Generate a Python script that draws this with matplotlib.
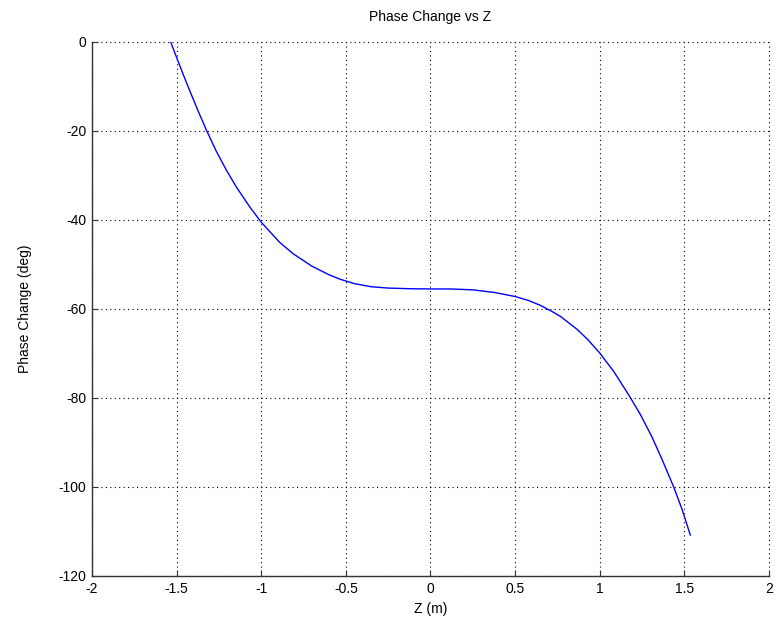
import matplotlib.pyplot as plt

plt.rcParams['font.family'] = ['Liberation Sans', 'DejaVu Sans']
plt.rcParams['axes.unicode_minus'] = False

# values
z = [-1.535, -1.50, -1.461, -1.422, -1.373, -1.324, -1.265, -1.206, -1.147,
     -1.069, -1.0, -0.892, -0.811, -0.70, -0.60, -0.535, -0.45, -0.35, -0.25,
     -0.12, 0.0, 0.12, 0.25, 0.38, 0.5, 0.58, 0.65, 0.72, 0.769, 0.867, 0.93,
     1.0, 1.082, 1.171, 1.24, 1.309, 1.368, 1.437, 1.486, 1.535]
phase = [0.0, -3.5, -7.3, -11.0, -15.5, -19.8, -24.6, -28.8, -32.6,
         -37.0, -40.5, -45.0, -47.6, -50.4, -52.3, -53.3, -54.3, -55.0, -55.3,
         -55.45, -55.5, -55.5, -55.7, -56.3, -57.2, -58.1, -59.2, -60.6, -61.7, -64.6, -66.9,
         -69.9, -74.0, -79.3, -83.7, -88.8, -93.8, -100.0, -105.0, -110.8]

xticks = [-2, -1.5, -1, -0.5, 0, 0.5, 1, 1.5, 2]
xticklabels = ['-2', '-1.5', '-1', '-0.5', '0', '0.5', '1', '1.5', '2']
yticks = [-120, -100, -80, -60, -40, -20, 0]

fig = plt.figure(figsize=(7.77, 6.39), dpi=100)
ax = fig.add_axes([0.1184, 0.0986, 0.8713, 0.8357])

ax.plot(z, phase, color='#0000ff', linewidth=1.0)

ax.set_xlim(-2, 2)
ax.set_ylim(-120, 0)
ax.set_xticks(xticks)
ax.set_xticklabels(xticklabels)
ax.set_yticks(yticks)

ax.grid(True, linestyle=(0, (1, 3)), color='black', linewidth=0.8)
for spine in ['top', 'right']:
    ax.spines[spine].set_visible(False)
for spine in ['left', 'bottom']:
    ax.spines[spine].set_color('#333333')
    ax.spines[spine].set_linewidth(1.0)
for gl in ax.get_xgridlines() + ax.get_ygridlines():
    gl.set_clip_on(False)

ax.tick_params(direction='in', length=4, width=0.8, colors='#333333',
               labelcolor='black', labelsize=10, pad=4)

ax.set_xlabel('Z (m)', fontsize=10, labelpad=5)
ax.set_ylabel('Phase Change (deg)', fontsize=10, labelpad=19)
ax.set_title('Phase Change vs Z', fontsize=10, pad=15)

fig.savefig('out.png', dpi=100)
